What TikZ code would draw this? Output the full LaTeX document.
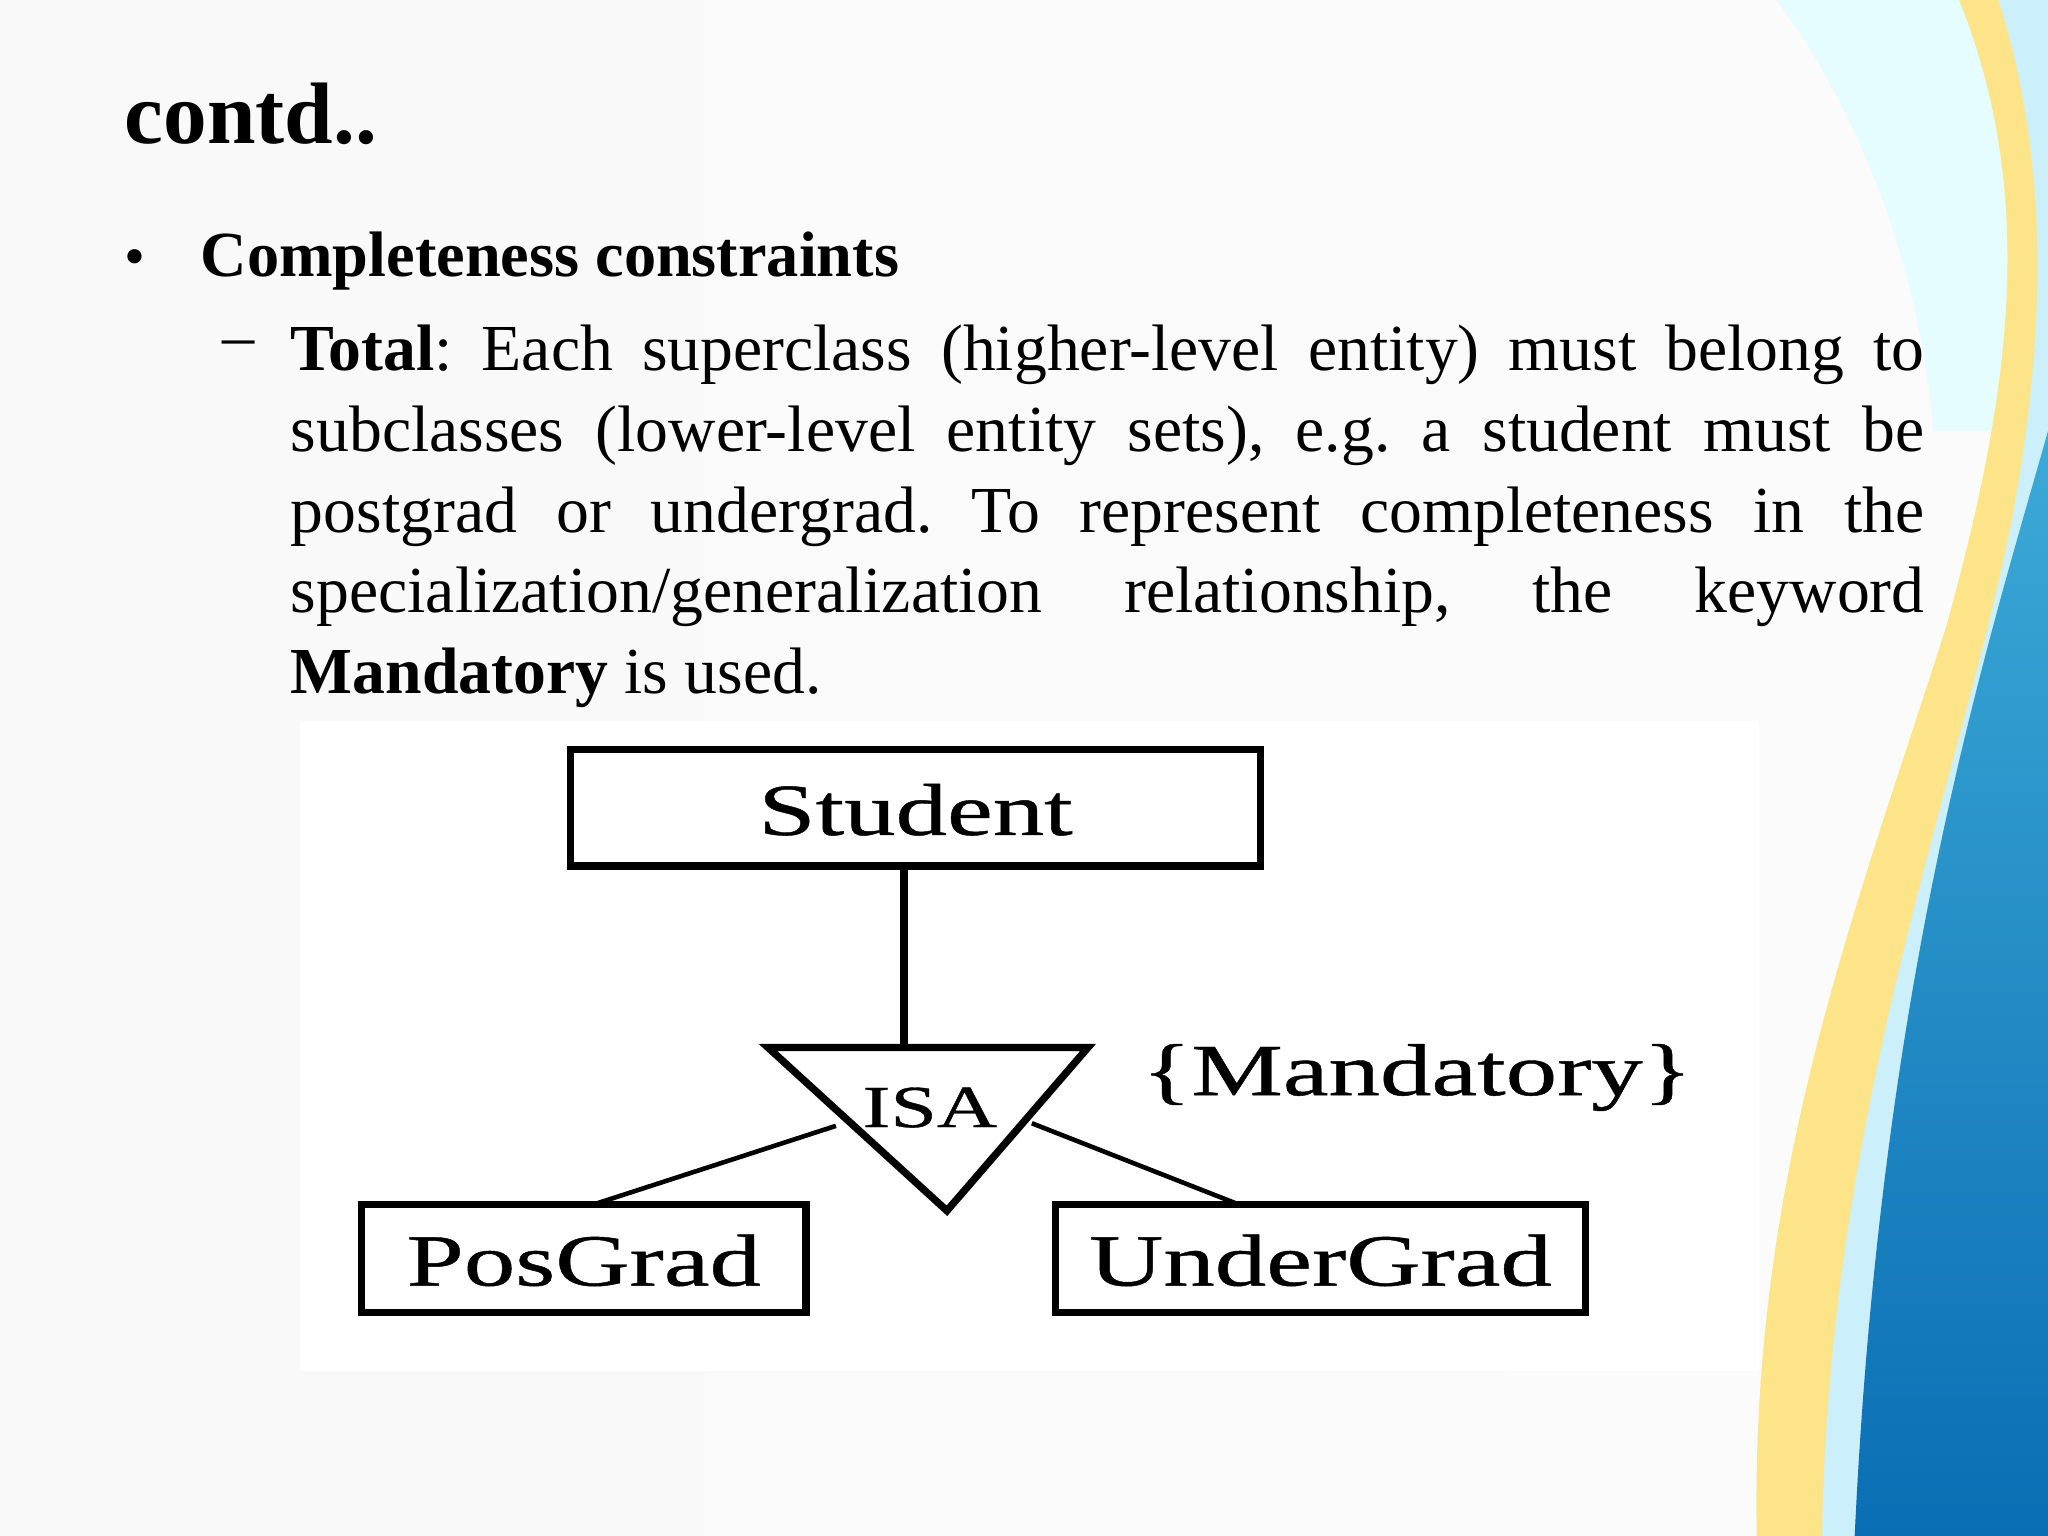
\documentclass[tikz,border=0pt]{standalone}
\usepackage{fontspec}
\setmainfont{Liberation Serif}
\newfontfamily\dgfont[FakeStretch=1.4,FakeBold=0.6]{Liberation Serif}
\begin{document}
\begin{tikzpicture}[x=0.01cm,y=-0.01cm,
  bx/.style={line width=1.6pt},
  dg/.style={font=\dgfont\fontsize{16}{20}\selectfont,inner sep=0pt},
  ln/.style={line width=1pt}]
\useasboundingbox (0,0) rectangle (1568,1176);
\shade[left color=white!95!gray, right color=white!97!gray] (0,0) rectangle (1568,1176);
% decorative waves
\fill[blue!8!cyan!10] (1360,0) .. controls (1420,80) and (1470,200) .. (1480,330) -- (1568,330) -- (1568,0) -- cycle;
\fill[yellow!60!orange!45] (1500,0) .. controls (1560,150) and (1540,300) .. (1490,480) .. controls (1420,700) and (1340,900) .. (1345,1176) -- (1568,1176) -- (1568,0) -- cycle;
\fill[cyan!20] (1530,0) .. controls (1568,120) and (1568,250) .. (1540,400) .. controls (1500,600) and (1400,850) .. (1395,1176) -- (1568,1176) -- (1568,0) -- cycle;
\definecolor{wb1}{RGB}{60,170,215}\definecolor{wb2}{RGB}{10,110,180}
\shade[top color=wb1, bottom color=wb2] (1568,330) .. controls (1520,500) and (1440,750) .. (1420,1176) -- (1568,1176) -- cycle;
% text
\node[anchor=base west,inner sep=0pt,font=\fontsize{19}{22}\selectfont\bfseries] (title) at (95,110) {contd..};
\node[anchor=base west,inner sep=0pt,font=\fontsize{13}{16}\selectfont] (bul) at (95,212) {\textbullet};
\node[anchor=base west,inner sep=0pt,font=\fontsize{14}{16}\selectfont\bfseries] (head) at (153,212) {Completeness constraints};
\node[anchor=base west,inner sep=0pt,font=\fontsize{14}{16}\selectfont] (dash) at (170,274) {--};
\node[anchor=north west,inner sep=0pt,text width=12.5cm,align=justify,font=\fontsize{14.3}{17.6}\selectfont] (body) at (222,248)
 {\hyphenpenalty=10000\frenchspacing\textbf{Total}: Each superclass (higher-level entity) must belong to\linebreak subclasses (lower-level entity sets), e.g. a student must be\linebreak postgrad or undergrad. To represent completeness in the\linebreak specialization/generalization relationship, the keyword\linebreak \textbf{Mandatory} is used.};
% diagram
\fill[white] (230,552) rectangle (1347,1050);
\draw[bx] (437,574) rectangle (965,663);
\node[dg] (stu) at (701,620) {Student};
\draw[bx] (277,922) rectangle (617,1005);
\node[dg] (pg) at (447,965) {PosGrad};
\draw[bx] (808,922) rectangle (1214,1005);
\node[dg] (ug) at (1011,965) {UnderGrad};
\coordinate (tl) at (588,802); \coordinate (tr) at (833,802); \coordinate (tb) at (725,927);
\draw[bx] (tl) -- (tr) -- (tb) -- cycle;
\node[dg,font=\dgfont\fontsize{13}{16}\selectfont] (isa) at (712,848) {ISA};
\coordinate (stb) at (692,663); \coordinate (top) at (692,802);
\draw[bx] (stb) -- (top);
\coordinate (lp) at (640,862); \coordinate (rp) at (790,860);
\coordinate (pgt) at (455,922); \coordinate (ugt) at (948,922);
\draw[ln] (lp) -- (pgt);
\draw[ln] (rp) -- (ugt);
\node[dg] (mand) at (1085,825) {\{Mandatory\}};
\end{tikzpicture}
\end{document}
